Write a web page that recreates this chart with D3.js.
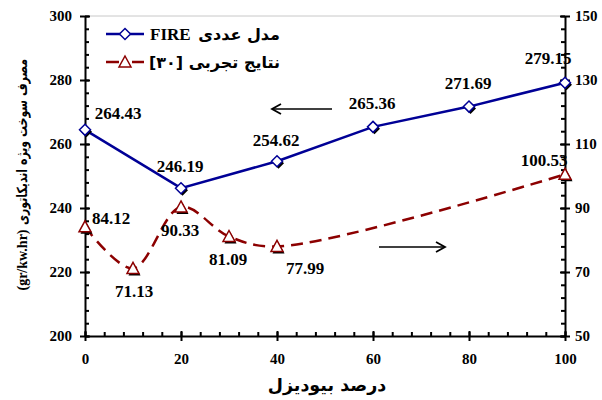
<!DOCTYPE html>
<html>
<head>
<meta charset="utf-8">
<script src="https://cdn.jsdelivr.net/npm/d3@7"></script>
<style>
  html, body { margin: 0; padding: 0; background: #fff; }
  svg { display: block; }
  .serif { font-family: "Liberation Serif", "Times New Roman", "DejaVu Serif", serif; font-weight: bold; }
  .fa { font-family: "DejaVu Sans", sans-serif; font-weight: bold; }
</style>
</head>
<body>
<svg id="chart" width="602" height="400"></svg>
<script>
// Biodiesel blend percentage (x) for each series
const fireX = [0, 20, 40, 60, 80, 100];
const fireY = [264.43, 246.19, 254.62, 265.36, 271.69, 279.15];
const expX = [0, 10, 20, 30, 40, 100];
const expY = [84.12, 71.13, 90.33, 81.09, 77.99, 100.53];

const xTicks = [0, 20, 40, 60, 80, 100];
const yLeftTicks = [200, 220, 240, 260, 280, 300];
const yRightTicks = [50, 70, 90, 110, 130, 150];

const legendFireName = "FIRE";
const legendFire = "مدل عددی";
const legendExp = "نتایج تجربی  [۳۰]";
const yTitleUnit = "(gr/kw.hr)";
const yTitle = "مصرف سوخت ویژه اندیکاتوری";
const xTitle = "درصد بیودیزل";

// label offsets (px) from each point
const fireLabelOff = [[33, -16], [-1, -22], [-1, -21], [-1, -23], [-1, -23], [-17, -24]];
const expLabelOff = [[26, -8], [1, 23], [-1, 24], [-1, 23], [28, 22], [-21, -14]];

const BLUE = "#000096";
const RED = "#8c0000";

const svg = d3.select("#chart");
const L = 85, R = 565, T = 16, B = 336;

const x = d3.scaleLinear().domain([0, 100]).range([L, R]);
const yL = d3.scaleLinear().domain([200, 300]).range([B, T]);
const yR = d3.scaleLinear().domain([50, 150]).range([B, T]);

// top frame line
svg.append("line").attr("x1", L).attr("x2", R).attr("y1", T).attr("y2", T)
  .attr("stroke", "#c8c8c8").attr("stroke-width", 1);

function styleAxis(g) {
  g.attr("font-family", null).attr("font-size", null);
  g.select(".domain").attr("stroke", "#000").attr("stroke-width", 2);
  g.selectAll(".tick line").attr("stroke", "#000").attr("stroke-width", 2);
  g.selectAll(".tick text").attr("class", "serif").style("font-size", "15px").attr("fill", "#000");
}
const minorOf = (lo, hi) => d3.range(lo, hi + 0.001, 4);

// left axis: major crossing ticks + inner minor ticks
const gL = svg.append("g").attr("transform", `translate(${L},0)`)
  .call(d3.axisLeft(yL).tickValues(yLeftTicks).tickSize(5).tickPadding(8).tickSizeOuter(0));
gL.selectAll(".tick line").attr("x2", -5).attr("x1", 5);
styleAxis(gL);
const gLm = svg.append("g").attr("transform", `translate(${L},0)`)
  .call(d3.axisRight(yL).tickValues(minorOf(200, 300)).tickSize(4).tickFormat("").tickSizeOuter(0));
gLm.select(".domain").remove();
gLm.selectAll(".tick line").attr("stroke", "#000").attr("stroke-width", 2);

// right axis
const gR = svg.append("g").attr("transform", `translate(${R},0)`)
  .call(d3.axisRight(yR).tickValues(yRightTicks).tickSize(5).tickPadding(5).tickSizeOuter(0));
gR.selectAll(".tick line").attr("x1", -5).attr("x2", 5);
styleAxis(gR);
const gRm = svg.append("g").attr("transform", `translate(${R},0)`)
  .call(d3.axisLeft(yR).tickValues(minorOf(50, 150)).tickSize(4).tickFormat("").tickSizeOuter(0));
gRm.select(".domain").remove();
gRm.selectAll(".tick line").attr("stroke", "#000").attr("stroke-width", 2);

// bottom axis
const gB = svg.append("g").attr("transform", `translate(0,${B})`)
  .call(d3.axisBottom(x).tickValues(xTicks).tickSize(5).tickPadding(12).tickSizeOuter(0));
gB.selectAll(".tick line").attr("y1", -5).attr("y2", 5);
styleAxis(gB);
const gBm = svg.append("g").attr("transform", `translate(0,${B})`)
  .call(d3.axisTop(x).tickValues(minorOf(0, 100)).tickSize(4).tickFormat("").tickSizeOuter(0));
gBm.select(".domain").remove();
gBm.selectAll(".tick line").attr("stroke", "#000").attr("stroke-width", 2);

// y axis title: unit in serif at the bottom, Persian words above it
svg.append("text").attr("transform", "translate(22,260) rotate(-90)")
  .attr("text-anchor", "middle").attr("dominant-baseline", "central")
  .attr("class", "serif").style("font-size", "14px").text(yTitleUnit);
svg.append("text").attr("transform", "translate(22,142) rotate(-90)")
  .attr("text-anchor", "middle").attr("dominant-baseline", "central")
  .attr("direction", "rtl").attr("class", "fa").style("font-size", "14px")
  .attr("textLength", 166).attr("lengthAdjust", "spacingAndGlyphs")
  .text(yTitle);

svg.append("text").attr("x", 327).attr("y", 385)
  .attr("text-anchor", "middle").attr("dominant-baseline", "central")
  .attr("direction", "rtl").attr("class", "fa").style("font-size", "17.5px").text(xTitle);

// annotation arrows
function arrow(x1, x2, yy, dir) {
  svg.append("line").attr("x1", x1).attr("x2", x2).attr("y1", yy).attr("y2", yy)
    .attr("stroke", "#000").attr("stroke-width", 1.5);
  const tip = dir < 0 ? x1 : x2;
  svg.append("path")
    .attr("d", `M${tip - dir * 9},${yy - 5} L${tip},${yy} L${tip - dir * 9},${yy + 5}`)
    .attr("fill", "none").attr("stroke", "#000").attr("stroke-width", 1.8);
}
arrow(272, 332, 109, -1);
arrow(379, 445, 247, 1);

// series lines
const fireData = fireX.map((v, i) => [v, fireY[i]]);
const expData = expX.map((v, i) => [v, expY[i]]);

svg.append("path").datum(fireData)
  .attr("d", d3.line().x(d => x(d[0])).y(d => yL(d[1])))
  .attr("fill", "none").attr("stroke", BLUE).attr("stroke-width", 2.5);

svg.append("path").datum(expData)
  .attr("d", d3.line().x(d => x(d[0])).y(d => yR(d[1])).curve(d3.curveCatmullRom.alpha(0.5)))
  .attr("fill", "none").attr("stroke", RED).attr("stroke-width", 2.5)
  .attr("stroke-dasharray", "12,7");

// markers with a dark drop shadow
const diamond = "M0,-5.5L5.5,0L0,5.5L-5.5,0Z";
const triangle = "M0,-6L6,5L-6,5Z";
function markers(data, ys, shape, color) {
  const g = svg.append("g");
  data.forEach(d => {
    const px = x(d[0]), py = ys(d[1]);
    g.append("path").attr("d", shape).attr("transform", `translate(${px + 1.5},${py + 2})`)
      .attr("fill", "#000");
    g.append("path").attr("d", shape).attr("transform", `translate(${px},${py})`)
      .attr("fill", "#fff").attr("stroke", color).attr("stroke-width", 1.5);
  });
}
markers(fireData, yL, diamond, BLUE);
markers(expData, yR, triangle, RED);

// value labels
function labels(data, ys, offs) {
  svg.append("g").selectAll("text").data(data).join("text")
    .attr("x", (d, i) => x(d[0]) + offs[i][0])
    .attr("y", (d, i) => ys(d[1]) + offs[i][1])
    .attr("text-anchor", "middle").attr("dominant-baseline", "central")
    .attr("class", "serif").style("font-size", "17px")
    .attr("fill", "#000")
    .text(d => d[1].toFixed(2));
}
labels(fireData, yL, fireLabelOff);
labels(expData, yR, expLabelOff);

// legend
const lg = svg.append("g");
lg.append("line").attr("x1", 106).attr("x2", 144).attr("y1", 34).attr("y2", 34)
  .attr("stroke", BLUE).attr("stroke-width", 2.5);
lg.append("path").attr("d", diamond).attr("transform", "translate(125,34)")
  .attr("fill", "#fff").attr("stroke", BLUE).attr("stroke-width", 1.5);
lg.append("line").attr("x1", 106).attr("x2", 144).attr("y1", 62).attr("y2", 62)
  .attr("stroke", RED).attr("stroke-width", 2.5).attr("stroke-dasharray", "13,13");
lg.append("path").attr("d", triangle).attr("transform", "translate(125,62)")
  .attr("fill", "#fff").attr("stroke", RED).attr("stroke-width", 1.5);

lg.append("text").attr("x", 150).attr("y", 34).attr("dominant-baseline", "central")
  .attr("class", "serif").style("font-size", "17px").text(legendFireName);
lg.append("text").attr("x", 280).attr("y", 34).attr("direction", "rtl")
  .attr("text-anchor", "start").attr("dominant-baseline", "central")
  .attr("class", "fa").style("font-size", "16px").text(legendFire);
lg.append("text").attr("x", 280).attr("y", 62).attr("direction", "rtl")
  .attr("text-anchor", "start").attr("dominant-baseline", "central")
  .attr("class", "fa").style("font-size", "16px").text(legendExp);
</script>
</body>
</html>
